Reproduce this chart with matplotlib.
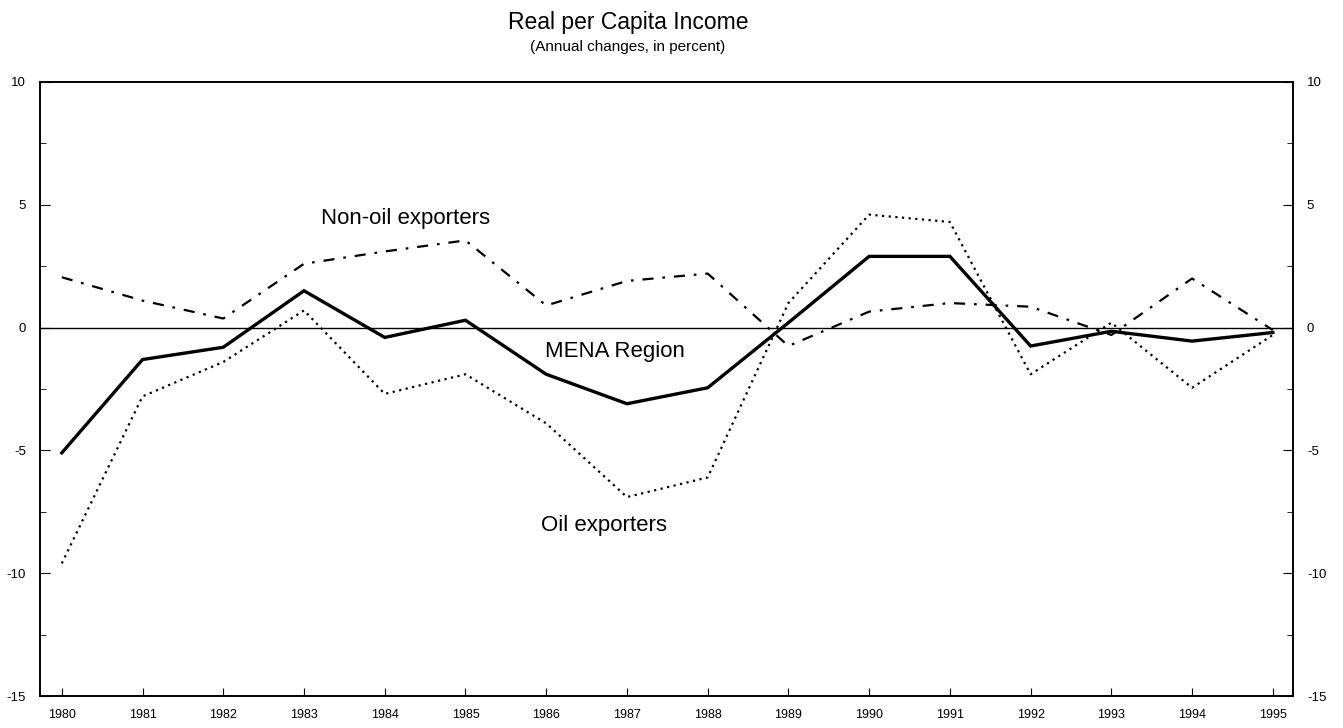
import matplotlib.pyplot as plt
from matplotlib.ticker import MultipleLocator

plt.rcParams['font.family'] = ['Liberation Sans', 'DejaVu Sans']

# ----------------------- #
# Data
# ----------------------- #
years = list(range(1980, 1996))
mena = [-5.1, -1.3, -0.8, 1.5, -0.4, 0.3, -1.9, -3.1, -2.45, 0.2,
        2.9, 2.9, -0.75, -0.15, -0.55, -0.2]
oil = [-9.6, -2.8, -1.4, 0.7, -2.7, -1.9, -3.9, -6.9, -6.1, 1.0,
       4.6, 4.3, -1.9, 0.2, -2.45, -0.3]
non_oil = [2.05, 1.1, 0.37, 2.6, 3.1, 3.55, 0.9, 1.9, 2.2, -0.75,
           0.65, 1.0, 0.85, -0.3, 2.0, -0.1]
y_ticks = [-15, -10, -5, 0, 5, 10]

# ----------------------- #
# Figure
# ----------------------- #
fig = plt.figure(figsize=(13.43, 7.28), dpi=100)
ax = fig.add_axes([40/1343, 1-696/728, 1253/1343, 614/728])

ax.axhline(0, color='black', linewidth=1.0, zorder=1)
ax.plot(years, oil, color='black', linewidth=1.6, linestyle=(0, (1, 2)))
ax.plot(years, non_oil, color='black', linewidth=1.6, linestyle=(0, (5, 4, 1.2, 4)))
ax.plot(years, mena, color='black', linewidth=2.4, solid_joinstyle='miter')

ax.set_xlim(1979.73, 1995.25)
ax.set_ylim(-15, 10)

ax.set_xticks(years)
ax.set_xticklabels([str(y) for y in years], fontsize=9)
ax.set_yticks(y_ticks)
ax.set_yticklabels([str(t) for t in y_ticks], fontsize=9.5)
ax.yaxis.set_minor_locator(MultipleLocator(2.5))

ax.tick_params(axis='x', direction='in', length=6, width=0.8, pad=9)
ax.tick_params(axis='y', which='major', direction='in', length=7, width=0.8,
               left=True, right=True, labelleft=True, labelright=True, pad=10)
ax.tick_params(axis='y', which='minor', direction='in', length=4, width=0.6,
               left=True, right=True)

for s in ax.spines.values():
    s.set_linewidth(1.4)

# series labels
ax.text(1984.26, 4.43, 'Non-oil exporters', fontsize=16, ha='center', va='center')
ax.text(1986.85, -0.98, 'MENA Region', fontsize=16, ha='center', va='center')
ax.text(1986.71, -8.04, 'Oil exporters', fontsize=16, ha='center', va='center')

# titles
fig.text(628/1343, 1-22/728, 'Real per Capita Income', fontsize=16.5, ha='center', va='center')
fig.text(628/1343, 1-47/728, '(Annual changes, in percent)', fontsize=11, ha='center', va='center')

plt.savefig('out.png', dpi=100)
